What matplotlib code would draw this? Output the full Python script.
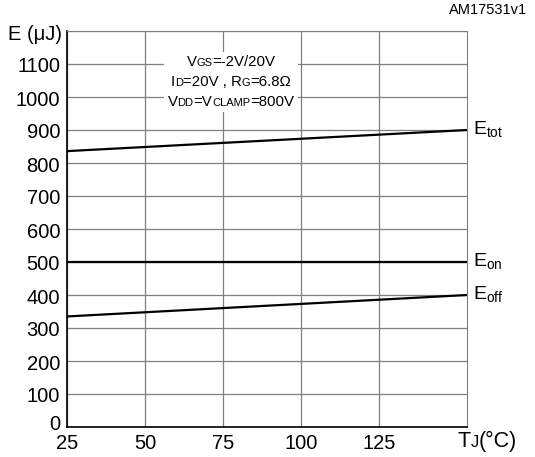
import numpy as np
import matplotlib
matplotlib.use("Agg")
import matplotlib.pyplot as plt
import matplotlib.transforms as mtransforms
from matplotlib.offsetbox import TextArea, HPacker, VPacker, AnnotationBbox

plt.rcParams['font.family'] = ['Liberation Sans', 'DejaVu Sans']

# data
tj = [25, 153.2]
e_tot = [836, 900]
e_on = [500, 500]
e_off = [335, 400]
xticks = [25, 50, 75, 100, 125]
yticks = [0, 100, 200, 300, 400, 500, 600, 700, 800, 900, 1000, 1100]

fig = plt.figure(figsize=(5.35, 4.57), dpi=100)
ax = fig.add_axes([67 / 535, 1 - 427 / 457, 400 / 535, 396 / 457])
ax.set_xlim(25, 153.2)
ax.set_ylim(0, 1200)

ax.set_xticks(xticks)
ax.set_yticks(yticks + [1200])
ax.set_yticklabels([str(t) for t in yticks] + [''])
ax.tick_params(length=0, labelsize=14.5, pad=5)
ax.tick_params(axis='x', pad=5)
ax.grid(True, color='#7f7f7f', lw=0.9)

# the 0 label sits above the axis line
for i, lab in enumerate(ax.get_yticklabels()):
    dy = 5 if i == 0 else -1
    lab.set_transform(lab.get_transform() + mtransforms.ScaledTranslation(0, dy / 100, fig.dpi_scale_trans))

for s in ['top', 'right']:
    ax.spines[s].set_color('#7f7f7f')
for s in ['left', 'bottom']:
    ax.spines[s].set_color('black')
    ax.spines[s].set_linewidth(1.2)

for y in (e_tot, e_on, e_off):
    ax.plot(tj, y, color='black', lw=1.6, solid_capstyle='butt')

# curve labels
ax.text(155.2, e_tot[1], r'E$_{\mathregular{tot}}$', fontsize=14, va='center')
ax.text(155.2, e_on[1], r'E$_{\mathregular{on}}$', fontsize=14, va='center')
ax.text(155.2, e_off[1], r'E$_{\mathregular{off}}$', fontsize=14, va='center')


def row(parts, big=10.8, small=8):
    boxes = []
    for txt, sm in parts:
        boxes.append(TextArea(txt, textprops=dict(fontsize=small if sm else big)))
    return HPacker(children=boxes, align='baseline', pad=0, sep=0)


# axis labels
fig.text(62 / 535, 1 - 34 / 457, 'E (μJ)', fontsize=14.5, ha='right', va='center')
tlab = row([('T', False), ('J', True), ('(°C)', False)], big=15.5, small=12)
fig.add_artist(AnnotationBbox(tlab, (517 / 535, 1 - 441 / 457), xycoords='figure fraction',
                              box_alignment=(1, 0.5), frameon=False, pad=0))
fig.text(1 - 8 / 535, 1 - 10 / 457, 'AM17531v1', fontsize=10.5, ha='right', va='center')

# conditions box, small caps on the same baseline
rows = [
    row([('V', False), ('GS', True), ('=-2V/20V', False)]),
    row([('I', False), ('D', True), ('=20V , R', False), ('G', True), ('=6.8Ω', False)]),
    row([('V', False), ('DD', True), ('=V', False), ('CLAMP', True), ('=800V', False)]),
]
box = VPacker(children=rows, align='center', pad=0, sep=4)
ab = AnnotationBbox(box, (231 / 535, 1 - 82 / 457), xycoords='figure fraction',
                    frameon=True, pad=0.25,
                    bboxprops=dict(facecolor='white', edgecolor='none'))
ax.add_artist(ab)

fig.savefig('out.png', dpi=100)
